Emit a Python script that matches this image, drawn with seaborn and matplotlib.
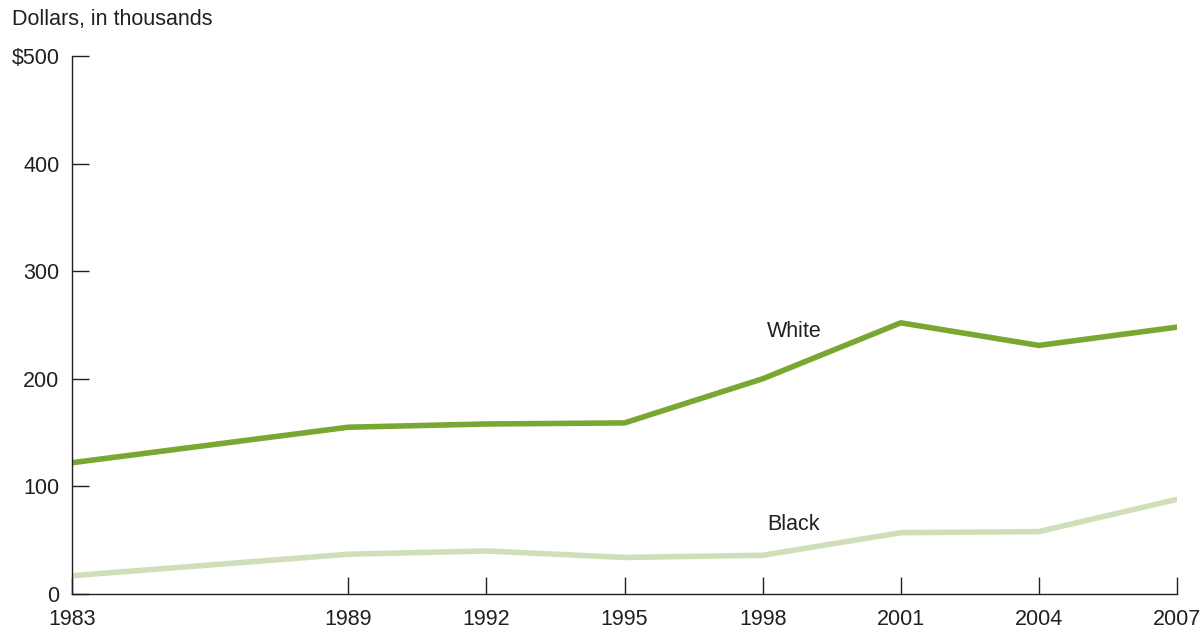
import numpy as np
import pandas as pd
import matplotlib
matplotlib.use("Agg")
import matplotlib.pyplot as plt
import seaborn as sns

# Median net worth by race, dollars in thousands
years = [1983, 1989, 1992, 1995, 1998, 2001, 2004, 2007]
white = [122, 155, 158, 159, 200, 252, 231, 248]
black = [17, 37, 40, 34, 36, 57, 58, 88]

df = pd.DataFrame({
    "year": years * 2,
    "value": white + black,
    "group": ["White"] * len(years) + ["Black"] * len(years),
})

sns.set_style("white")
plt.rcParams["font.family"] = ["Liberation Sans", "DejaVu Sans"]

fig = plt.figure(figsize=(12.04, 6.29), dpi=100)
ax = fig.add_axes([0.0598, 0.0556, 0.9178, 0.8555])

palette = {"White": "#79a732", "Black": "#d0dfb9"}
sns.lineplot(data=df, x="year", y="value", hue="group", palette=palette,
             linewidth=4.0, legend=False, ax=ax)

ax.set_xlim(1983, 2007)
ax.set_ylim(0, 500)
ax.set_xticks(years)
ax.set_yticks([0, 100, 200, 300, 400, 500])
ax.set_yticklabels(["0", "100", "200", "300", "400", "$500"])
ax.set_xlabel("")
ax.set_ylabel("")

for side in ["top", "right"]:
    ax.spines[side].set_visible(False)
for side in ["left", "bottom"]:
    ax.spines[side].set_color("#231f20")
    ax.spines[side].set_linewidth(1.0)

fs = 15.5
ax.tick_params(axis="both", direction="in", length=12, width=1.0,
               color="#231f20", labelsize=fs, labelcolor="#231f20")
ax.tick_params(axis="x", pad=11, bottom=True)
ax.tick_params(axis="y", pad=9, left=True)

ax.text(1998.1, 244, "White", fontsize=fs, color="#231f20", va="center", ha="left")
ax.text(1998.1, 65, "Black", fontsize=fs, color="#231f20", va="center", ha="left")

fig.text(12 / 1204, 1 - 19 / 629, "Dollars, in thousands", fontsize=fs,
         color="#231f20", va="center", ha="left")

fig.savefig("out.png", dpi=100)
